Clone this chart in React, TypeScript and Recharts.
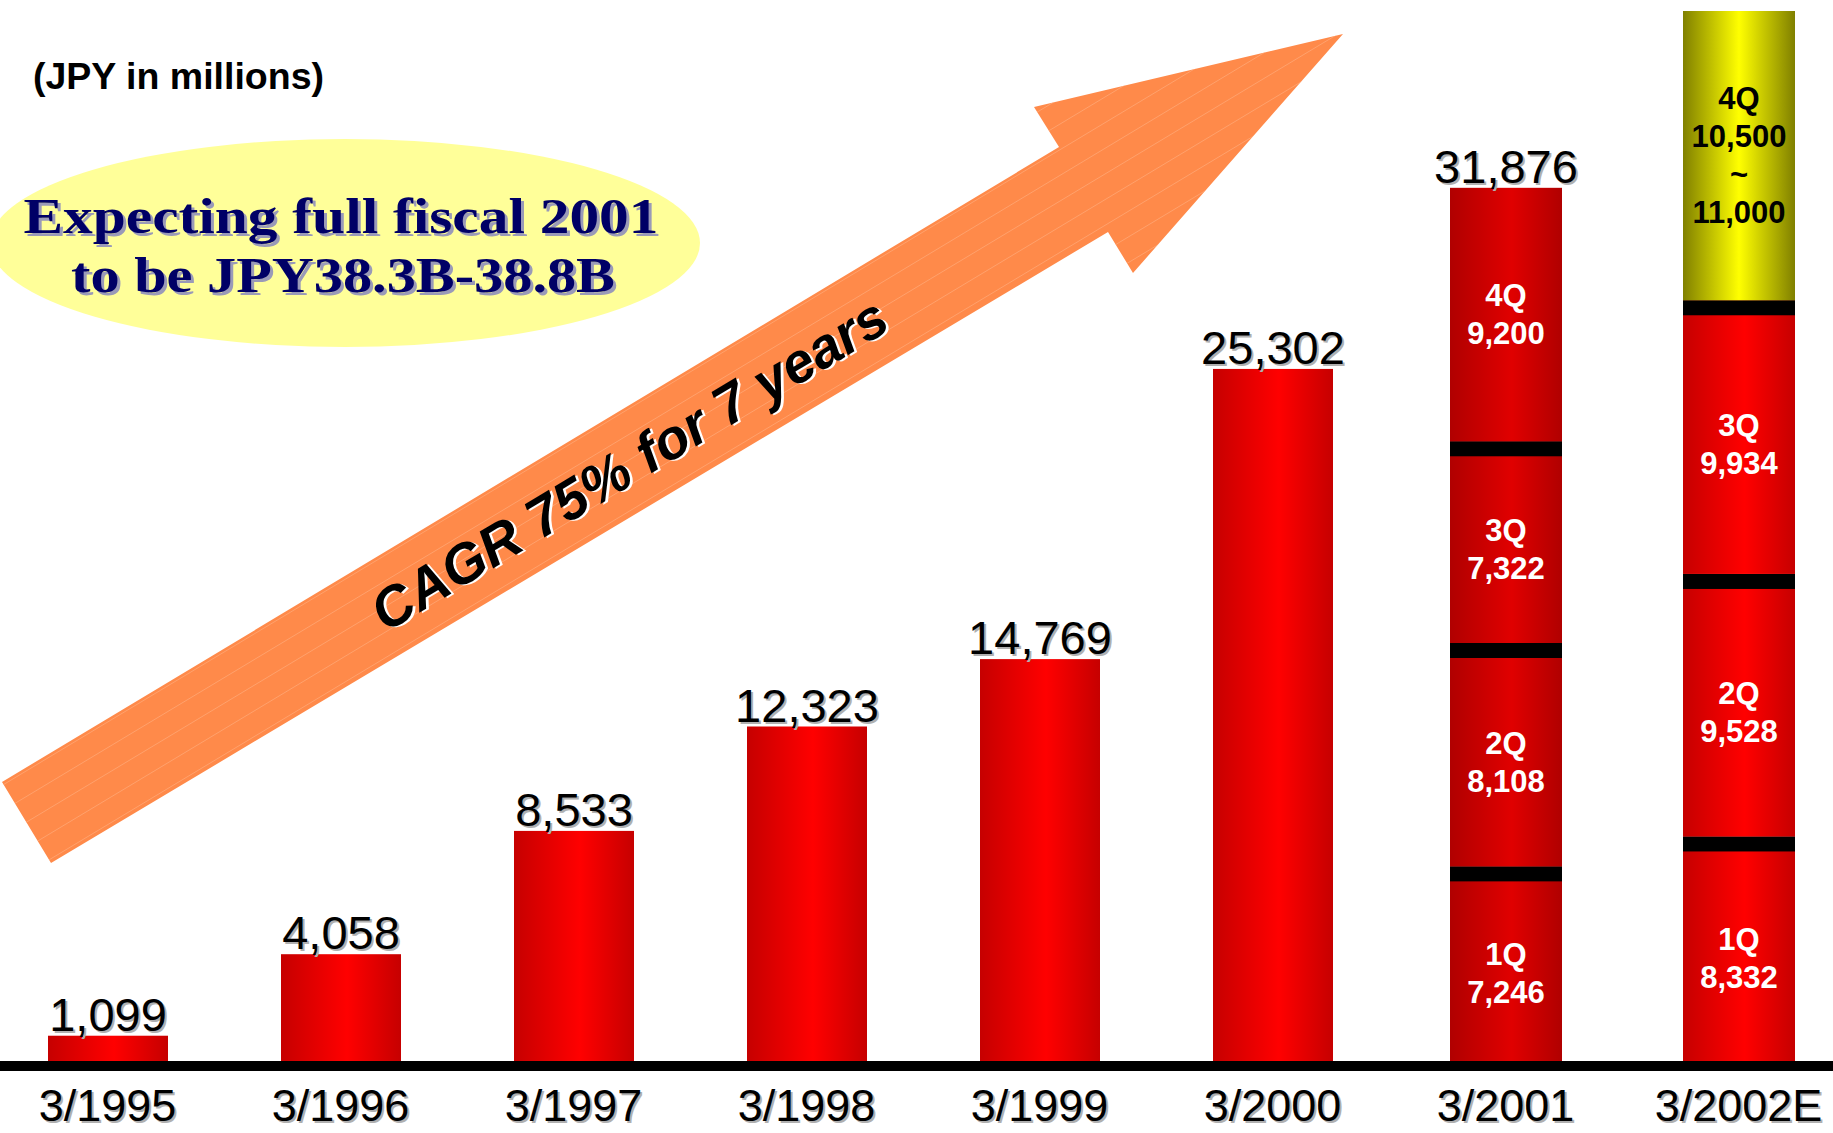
import React from "react";
import { BarChart, Bar, XAxis, YAxis, LabelList } from "recharts";

// fiscal years ending March, JPY millions
const categories = ["3/1995", "3/1996", "3/1997", "3/1998", "3/1999", "3/2000", "3/2001", "3/2002E"];
const annualSales = [1099, 4058, 8533, 12323, 14769, 25302, null, null];
const q1Sales = [null, null, null, null, null, null, 7246, 8332];
const q2Sales = [null, null, null, null, null, null, 8108, 9528];
const q3Sales = [null, null, null, null, null, null, 7322, 9934];
const q4Sales = [null, null, null, null, null, null, 9200, 10500];
const q4SalesHigh = [null, null, null, null, null, null, null, 11000];
const stackTotals = [null, null, null, null, null, null, 31876, null];

const data = categories.map((name, i) => ({
  name,
  annual: annualSales[i],
  q1: q1Sales[i],
  q2: q2Sales[i],
  q3: q3Sales[i],
  q4: q4Sales[i],
  q4High: q4SalesHigh[i],
  total: stackTotals[i],
}));

const SANS = "'Liberation Sans', Arial, sans-serif";
const SERIF = "'Liberation Serif', 'Times New Roman', serif";
const BAND = 15;
const fmt = (v: number) => Number(v).toLocaleString("en-US");

const ARROW = "1343,34 1034,107 1059,147 2,782 51,863 1108,232 1133,273";

function GradRect({ x, y, width, height, fill, band }: any) {
  if (height == null || height <= 0) return null;
  return (
    <g>
      <rect x={x} y={y} width={width} height={height} fill={fill} />
      {band && <rect x={x} y={y} width={width} height={BAND} fill="#000" />}
    </g>
  );
}

const annualShape = (p: any) => <GradRect {...p} fill="url(#gRed)" band={false} />;

const quarterShape = (key: string) => (p: any) => {
  const fill = key === "q4" && p.index === 7 ? "url(#gYellow)" : p.index === 6 ? "url(#gDark)" : "url(#gRed)";
  return <GradRect x={p.x + 4} y={p.y} width={p.width - 8} height={p.height} fill={fill} band={key !== "q4"} />;
};

function ShadowText({ x, y, size, children, anchor = "middle", weight = "normal" }: any) {
  return (
    <g fontFamily={SANS} fontSize={size} fontWeight={weight} textAnchor={anchor}>
      <text x={x + 2} y={y + 2} fill="#b0b0b0">{children}</text>
      <text x={x} y={y} fill="#000">{children}</text>
    </g>
  );
}

const topLabel = (p: any) => {
  if (p.value == null) return null;
  const vb = p.viewBox ?? p;
  return <ShadowText x={vb.x + vb.width / 2} y={vb.y - 5} size={47}>{fmt(p.value)}</ShadowText>;
};

const quarterLabel = (q: string) => (p: any) => {
  if (p.value == null) return null;
  const vb = p.viewBox ?? p;
  const band = q === "4Q" ? 0 : BAND;
  const cx = vb.x + vb.width / 2;
  const cy = vb.y + band + (vb.height - band) / 2;
  const parts = String(p.value).split("~");
  const lines = parts.length > 1 ? [q, parts[0], "~", parts[1]] : [q, parts[0]];
  const color = parts.length > 1 ? "#000" : "#fff";
  const step = 38;
  return (
    <g fontFamily={SANS} fontSize={31} fontWeight="bold" fill={color} textAnchor="middle">
      {lines.map((l, i) => (
        <text key={i} x={cx} y={cy + (i - (lines.length - 1) / 2) * step} dominantBaseline="central">{l}</text>
      ))}
    </g>
  );
};

const q4Value = (d: any) => (d.q4 == null ? null : d.q4High != null ? `${fmt(d.q4)}~${fmt(d.q4High)}` : fmt(d.q4));
const qValue = (k: string) => (d: any) => (d[k] == null ? null : fmt(d[k]));

const YearTick = ({ x, y, payload }: any) => (
  <ShadowText x={x} y={y + 55} size={45}>{payload.value}</ShadowText>
);

// faint stripes across the arrow, parallel to its shaft
const dir = [0.857, -0.515];
const nrm = [0.515, 0.857];
const stripes = Array.from({ length: 16 }, (_, k) => 3 + (k - 6) * 22);

export default function App() {
  return (
    <div style={{ position: "absolute", left: 0, top: 0, width: 1833, height: 1133, overflow: "hidden", background: "#fff" }}>
      <div style={{ position: "absolute", left: -9, top: 0 }}>
        <BarChart width={1864} height={1133} data={data} margin={{ top: 11, right: 0, bottom: 0, left: 0 }} barSize={120}>
          <defs>
            <linearGradient id="gRed" x1="0" y1="0" x2="1" y2="0">
              <stop offset="0%" stopColor="#c60000" />
              <stop offset="55%" stopColor="#ff0000" />
              <stop offset="100%" stopColor="#c60000" />
            </linearGradient>
            <linearGradient id="gDark" x1="0" y1="0" x2="1" y2="0">
              <stop offset="0%" stopColor="#b00000" />
              <stop offset="55%" stopColor="#e00000" />
              <stop offset="100%" stopColor="#b00000" />
            </linearGradient>
            <linearGradient id="gYellow" x1="0" y1="0" x2="1" y2="0">
              <stop offset="0%" stopColor="#808000" />
              <stop offset="50%" stopColor="#ffff00" />
              <stop offset="100%" stopColor="#808000" />
            </linearGradient>
          </defs>
          <YAxis hide domain={[0, "dataMax"]} />
          <Bar dataKey="annual" stackId="a" shape={annualShape} isAnimationActive={false}>
            <LabelList dataKey="annual" content={topLabel} />
          </Bar>
          <Bar dataKey="q1" stackId="a" shape={quarterShape("q1")} isAnimationActive={false}>
            <LabelList dataKey={qValue("q1")} content={quarterLabel("1Q")} />
          </Bar>
          <Bar dataKey="q2" stackId="a" shape={quarterShape("q2")} isAnimationActive={false}>
            <LabelList dataKey={qValue("q2")} content={quarterLabel("2Q")} />
          </Bar>
          <Bar dataKey="q3" stackId="a" shape={quarterShape("q3")} isAnimationActive={false}>
            <LabelList dataKey={qValue("q3")} content={quarterLabel("3Q")} />
          </Bar>
          <Bar dataKey="q4" stackId="a" shape={quarterShape("q4")} isAnimationActive={false}>
            <LabelList dataKey={q4Value} content={quarterLabel("4Q")} />
            <LabelList dataKey="total" content={topLabel} />
          </Bar>
          <XAxis
            dataKey="name"
            interval={0}
            tickLine={false}
            tickSize={0}
            tickMargin={0}
            height={67}
            axisLine={{ stroke: "#000", strokeWidth: 10 }}
            tick={<YearTick />}
          />
        </BarChart>
      </div>

      <svg width={1833} height={1133} style={{ position: "absolute", left: 0, top: 0, pointerEvents: "none" }}>
        <defs>
          <clipPath id="arrowClip">
            <polygon points={ARROW} />
          </clipPath>
        </defs>

        <text x={33} y={89} fontFamily={SANS} fontSize={37} fontWeight="bold" fill="#000" textLength={291} lengthAdjust="spacingAndGlyphs">(JPY in millions)</text>

        <ellipse cx={345} cy={243} rx={355} ry={104} fill="#ffff99" />
        <g fontFamily={SERIF} fontSize={50} fontWeight="bold" textAnchor="middle">
          <text x={344} y={236} fill="#9a9ab8" textLength={635} lengthAdjust="spacingAndGlyphs">Expecting full fiscal 2001</text>
          <text x={341} y={233} fill="#000066" textLength={635} lengthAdjust="spacingAndGlyphs">Expecting full fiscal 2001</text>
          <text x={346} y={295} fill="#9a9ab8" textLength={544} lengthAdjust="spacingAndGlyphs">to be JPY38.3B-38.8B</text>
          <text x={343} y={292} fill="#000066" textLength={544} lengthAdjust="spacingAndGlyphs">to be JPY38.3B-38.8B</text>
        </g>

        <polygon points={ARROW} fill="#ff8a4a" />
        <g clipPath="url(#arrowClip)" stroke="#ffb488" strokeWidth={1} strokeOpacity={0.55}>
          {stripes.map((o, i) => {
            const bx = 2 + o * nrm[0];
            const by = 782 + o * nrm[1];
            return (
              <line key={i} x1={bx - 300 * dir[0]} y1={by - 300 * dir[1]} x2={bx + 1700 * dir[0]} y2={by + 1700 * dir[1]} />
            );
          })}
        </g>
        <g transform="rotate(-31 629 464)" fontFamily={SANS} fontSize={56} fontWeight="bold" fontStyle="italic" textAnchor="middle">
          <text x={631} y={466} fill="#fff" dominantBaseline="central">CAGR 75% for 7 years</text>
          <text x={629} y={464} fill="#000" dominantBaseline="central">CAGR 75% for 7 years</text>
        </g>
      </svg>
    </div>
  );
}
